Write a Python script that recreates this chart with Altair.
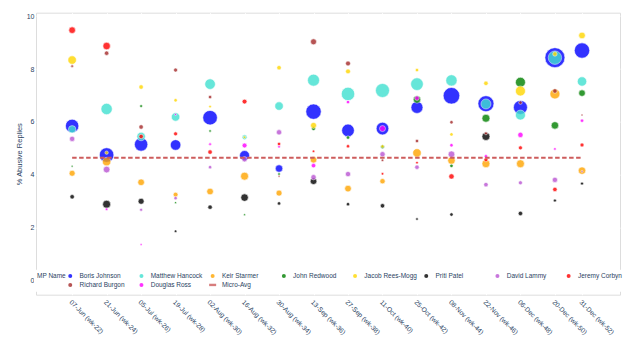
import json
import altair as alt
import pandas as pd

# ---------------- data ----------------
dates = ["2020-06-07", "2020-06-21", "2020-07-05", "2020-07-19", "2020-08-02", "2020-08-16",
         "2020-08-30", "2020-09-13", "2020-09-27", "2020-10-11", "2020-10-25", "2020-11-08",
         "2020-11-22", "2020-12-06", "2020-12-20", "2020-12-31"]
x_labels = ["07-Jun (wk-22)", "21-Jun (wk-24)", "05-Jul (wk-26)", "19-Jul (wk-28)",
            "02-Aug (wk-30)", "16-Aug (wk-32)", "30-Aug (wk-34)", "13-Sep (wk-36)",
            "27-Sep (wk-38)", "11-Oct (wk-40)", "25-Oct (wk-42)", "08-Nov (wk-44)",
            "22-Nov (wk-46)", "06-Dec (wk-48)", "20-Dec (wk-50)", "31-Dec (wk-52)"]

mp_names = ["Boris Johnson", "Matthew Hancock", "Keir Starmer", "John Redwood", "Jacob Rees-Mogg",
            "Priti Patel", "David Lammy", "Jeremy Corbyn", "Richard Burgon", "Douglas Ross"]
avg_name = "Micro-Avg"
avg_value = 4.65
y_ticks = [0, 2, 4, 6, 8, 10]

# % abusive replies (None = no point that fortnight) and reply volume (bubble size)
johnson_pct = [5.85, 4.75, 5.15, 5.13, 6.16, 4.73, 4.24, 6.39, 5.68, 5.75, 6.55, 6.99, 6.69, 6.55, 8.43, 8.70]
johnson_vol = [45, 53, 45, 28, 53, 25, 14, 59, 40, 40, 36, 69, 64, 49, 100, 59]
hancock_pct = [5.72, 6.49, 5.45, 6.19, 7.43, 5.42, 6.60, 7.58, 7.06, 7.19, 7.43, 7.57, 6.68, 6.26, 8.43, 7.53]
hancock_vol = [14, 32, 18, 18, 28, 6, 18, 36, 45, 49, 40, 32, 25, 25, 45, 22]
starmer_pct = [4.06, 4.50, 3.72, 3.25, 3.37, 3.95, 3.31, 4.57, 3.48, 3.76, 4.83, 4.54, 4.42, 4.42, 7.06, 4.16]
starmer_vol = [9, 18, 11, 6, 11, 16, 9, 11, 11, 7, 18, 14, 16, 16, 25, 14]
redwood_pct = [4.33, None, 6.60, 2.95, 5.66, 2.49, 4.03, 5.75, 5.41, 5.06, 6.85, 4.34, 6.14, 7.50, 5.87, 7.09]
redwood_vol = [1, None, 2, 1, 1.5, 1, 1.7, 4, 3, 4, 14, 3, 16, 25, 14, 11]
reesmogg_pct = [8.34, 4.84, 7.32, 6.82, 6.58, 5.42, 8.05, 5.87, 7.91, 5.08, 7.96, 5.53, 7.46, 7.17, 8.57, 9.27]
reesmogg_vol = [18, 3, 5, 3, 1.7, 1.5, 5, 9, 6, 2.3, 3, 3, 5, 25, 5, 11]
patel_pct = [3.17, 2.89, 3.00, 1.87, 2.78, 3.14, 2.92, 3.76, 2.89, 2.83, 2.33, 2.50, 5.45, 2.54, 3.03, 3.67]
patel_vol = [5, 16, 9, 1.7, 5, 14, 3, 11, 3, 5, 1.7, 3, 16, 5, 2.3, 2.3]
lammy_pct = [5.36, 4.20, 2.68, 3.12, 4.29, 4.59, 5.61, 3.91, 4.03, 4.78, 4.29, 4.78, 3.63, 3.70, 3.81, 4.13]
lammy_vol = [7, 11, 2.3, 3, 3, 7, 7, 7, 7, 7, 5, 11, 5, 4, 7, 1]
corbyn_pct = [9.47, 8.87, 5.45, 5.55, 4.86, 6.77, 5.17, 4.89, 5.08, 4.04, 4.46, 3.94, 4.57, 5.02, 3.45, 5.13]
corbyn_vol = [11, 14, 5, 4, 5, 6, 3, 1.5, 3, 1.7, 1.7, 7, 4, 4, 5, 4]
burgon_pct = [8.11, 8.60, 5.81, 7.96, 6.94, None, 3.95, 9.03, 8.21, 4.55, 5.28, 5.99, 5.57, 6.73, 7.17, 6.26]
burgon_vol = [1.7, 5, 5, 4, 3, None, 1, 9, 6, 1.5, 3, 3, 2.3, 3, 5, 1]
ross_pct = [None, 2.70, 1.37, 6.28, 5.16, 5.11, 5.06, 4.35, 6.75, 5.75, 6.90, 5.12, 4.70, 5.51, 4.98, 6.05]
ross_vol = [None, 1.5, 1, 1, 1.7, 6, 1.7, 5, 3, 9, 5, 3, 3, 7, 1.7, 3]

pct = dict(zip(mp_names, [johnson_pct, hancock_pct, starmer_pct, redwood_pct, reesmogg_pct,
                          patel_pct, lammy_pct, corbyn_pct, burgon_pct, ross_pct]))
vol = dict(zip(mp_names, [johnson_vol, hancock_vol, starmer_vol, redwood_vol, reesmogg_vol,
                          patel_vol, lammy_vol, corbyn_vol, burgon_vol, ross_vol]))

rows = []
for name in mp_names:
    for d, p, v in zip(dates, pct[name], vol[name]):
        if p is not None:
            rows.append({"date": d, "MP Name": name, "pct": p, "volume": v})
points_df = pd.DataFrame(rows)
avg_df = pd.DataFrame({"date": [dates[0], dates[-1]], "MP Name": [avg_name, avg_name],
                       "pct": [avg_value, avg_value]})

# ---------------- styling ----------------
TXT = "#2a3f5f"
FONT = "Liberation Sans"
color_domain = mp_names + [avg_name]
color_range = ["blue", "turquoise", "orange", "green", "gold", "black",
               "mediumorchid", "red", "brown", "magenta", "indianred"]
shape_range = ["circle"] * len(mp_names) + ["M-1.75,-0.6H1.75V0.6H-1.75Z"]


def dt(s):
    y, m, d = (int(t) for t in s.split("-"))
    return alt.DateTime(year=y, month=m, date=d, utc=True)


keys = [lab[:6] for lab in x_labels]
label_expr = f"{json.dumps(x_labels)}[indexof({json.dumps(keys)}, utcFormat(datum.value, '%d-%b'))]"

x_axis = alt.Axis(values=[dt(d) for d in dates], labelExpr=label_expr, title=None,
                  labelAngle=45, labelAlign="left", labelBaseline="top", labelPadding=4,
                  labelFontSize=6.7, labelColor=TXT, labelOverlap=False, labelFlush=False,
                  labelSeparation=0, labelBound=False,
                  ticks=False, domain=False, grid=True, gridColor="white", gridWidth=1)
x_scale = alt.Scale(type="utc",
                    domain=[alt.DateTime(year=2020, month=5, date=23, hours=8, utc=True),
                            alt.DateTime(year=2021, month=1, date=15, hours=10, utc=True)])
y_axis = alt.Axis(values=y_ticks, title="% Abusive Replies", titleFontSize=7.5,
                  titleFontWeight="normal", titleColor=TXT, titlePadding=3,
                  labelFontSize=7, labelColor=TXT, labelPadding=2, ticks=False,
                  domain=False, grid=True, gridColor="white", gridWidth=1)
y_scale = alt.Scale(domain=[-0.53, 10.13], nice=False, zero=False)
color_scale = alt.Scale(domain=color_domain, range=color_range)

legend = alt.Legend(
    orient="none", legendX=-2, legendY=257, direction="horizontal", columns=8,
    title="MP Name", titleOrient="left", titleAnchor="start", titleBaseline="top",
    titleFontSize=6.5, titleFontWeight="normal", titleColor=TXT, titlePadding=1,
    labelFontSize=6.5, labelColor=TXT, labelOffset=6, labelLimit=200,
    symbolSize=16, symbolStrokeWidth=0,
    columnPadding=4.2, rowPadding=2.0, padding=3, fillColor="white", gridAlign="all",
)

points = alt.Chart(points_df).mark_point(filled=True, opacity=0.8, stroke="white",
                                          strokeWidth=0.6).encode(
    x=alt.X("date:T", scale=x_scale, axis=x_axis),
    y=alt.Y("pct:Q", scale=y_scale, axis=y_axis),
    color=alt.Color("MP Name:N", scale=color_scale, legend=legend),
    shape=alt.Shape("MP Name:N", scale=alt.Scale(domain=color_domain, range=shape_range),
                    legend=legend),
    size=alt.Size("volume:Q", scale=alt.Scale(domain=[0, 100], range=[0, 400]), legend=None),
)

avg_line = alt.Chart(avg_df).mark_line(strokeDash=[4.5, 2.5], strokeWidth=2).encode(
    x=alt.X("date:T", scale=x_scale, axis=x_axis),
    y=alt.Y("pct:Q", scale=y_scale, axis=y_axis),
    color=alt.Color("MP Name:N", scale=color_scale, legend=None),
)

chart = alt.layer(points, avg_line).properties(
    width=584, height=282,
    autosize=alt.AutoSizeParams(type="none"),
    padding={"left": 28, "top": 4.7, "right": 12, "bottom": 50},
    background="white",
).configure_view(fill="#E5ECF6", stroke=None).configure(font=FONT).configure_axis(
    labelOverlap=False
)

chart.save("out.html", embed_options={"renderer": "svg", "actions": False})
